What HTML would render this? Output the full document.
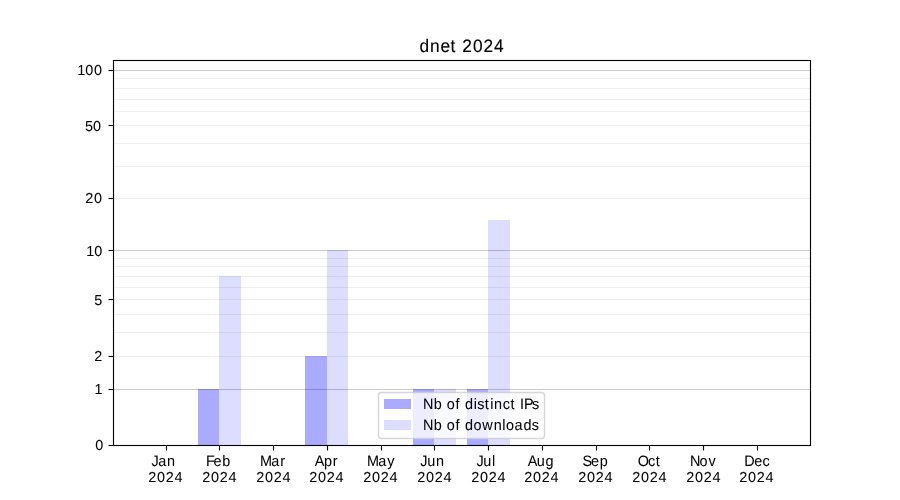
<!DOCTYPE html>
<html lang="en">
<head>
<meta charset="utf-8">
<title>dnet 2024</title>
<style>
html,body{margin:0;padding:0;background:#ffffff;}
body{width:900px;height:500px;overflow:hidden;font-family:"Liberation Sans",sans-serif;}
svg{display:block;will-change:transform;}
svg text{font-family:"Liberation Sans",sans-serif;fill:#000000;white-space:pre;text-rendering:geometricPrecision;stroke:#000000;stroke-width:0.04;}
.sp{stroke:#000;stroke-width:1.111;fill:none;}
.gM{fill:#000;fill-opacity:0.2;}
.gm{fill:#000;fill-opacity:0.06;}
</style>
</head>
<body>
<svg width="900" height="500" viewBox="0 0 900 500">
<defs><filter id="ga" x="-5%" y="-5%" width="110%" height="110%" color-interpolation-filters="sRGB"><feOffset dx="0" dy="0"/></filter></defs>
<rect x="0" y="0" width="900" height="500" fill="#ffffff"/>
<!-- bars -->
<g shape-rendering="crispEdges">
<rect x="198" y="389" width="21" height="56" fill="rgb(170,170,255)"/>
<rect x="219" y="276" width="22" height="169" fill="rgb(221,221,255)"/>
<rect x="305" y="356" width="22" height="89" fill="rgb(170,170,255)"/>
<rect x="327" y="250" width="21" height="195" fill="rgb(221,221,255)"/>
<rect x="413" y="389" width="21" height="56" fill="rgb(170,170,255)"/>
<rect x="434" y="389" width="22" height="56" fill="rgb(221,221,255)"/>
<rect x="467" y="389" width="21" height="56" fill="rgb(170,170,255)"/>
<rect x="488" y="220" width="22" height="225" fill="rgb(221,221,255)"/>
</g>
<!-- horizontal grid lines -->
<g>
<rect class="gM" x="112.5" width="697.5" y="69.9445" height="1.1111"/>
<rect class="gM" x="112.5" width="697.5" y="249.9444" height="1.1111"/>
<rect class="gM" x="112.5" width="697.5" y="388.9445" height="1.1111"/>
<rect class="gm" x="112.5" width="697.5" y="77.9445" height="1.1111"/>
<rect class="gm" x="112.5" width="697.5" y="87.9445" height="1.1111"/>
<rect class="gm" x="112.5" width="697.5" y="98.9445" height="1.1111"/>
<rect class="gm" x="112.5" width="697.5" y="110.9445" height="1.1111"/>
<rect class="gm" x="112.5" width="697.5" y="124.9445" height="1.1111"/>
<rect class="gm" x="112.5" width="697.5" y="142.9444" height="1.1111"/>
<rect class="gm" x="112.5" width="697.5" y="165.9444" height="1.1111"/>
<rect class="gm" x="112.5" width="697.5" y="197.9444" height="1.1111"/>
<rect class="gm" x="112.5" width="697.5" y="257.9445" height="1.1111"/>
<rect class="gm" x="112.5" width="697.5" y="265.9445" height="1.1111"/>
<rect class="gm" x="112.5" width="697.5" y="275.9445" height="1.1111"/>
<rect class="gm" x="112.5" width="697.5" y="286.9445" height="1.1111"/>
<rect class="gm" x="112.5" width="697.5" y="298.9445" height="1.1111"/>
<rect class="gm" x="112.5" width="697.5" y="313.9445" height="1.1111"/>
<rect class="gm" x="112.5" width="697.5" y="331.9445" height="1.1111"/>
<rect class="gm" x="112.5" width="697.5" y="355.9445" height="1.1111"/>
</g>
<!-- ticks -->
<g class="sp">
<line x1="166.5" x2="166.5" y1="445.5" y2="450.5"/>
<line x1="219.5" x2="219.5" y1="445.5" y2="450.5"/>
<line x1="273.5" x2="273.5" y1="445.5" y2="450.5"/>
<line x1="327.5" x2="327.5" y1="445.5" y2="450.5"/>
<line x1="381.5" x2="381.5" y1="445.5" y2="450.5"/>
<line x1="434.5" x2="434.5" y1="445.5" y2="450.5"/>
<line x1="488.5" x2="488.5" y1="445.5" y2="450.5"/>
<line x1="542.5" x2="542.5" y1="445.5" y2="450.5"/>
<line x1="596.5" x2="596.5" y1="445.5" y2="450.5"/>
<line x1="649.5" x2="649.5" y1="445.5" y2="450.5"/>
<line x1="703.5" x2="703.5" y1="445.5" y2="450.5"/>
<line x1="757.5" x2="757.5" y1="445.5" y2="450.5"/>
<line x1="108.5" x2="113.5" y1="70.5" y2="70.5"/>
<line x1="108.5" x2="113.5" y1="125.5" y2="125.5"/>
<line x1="108.5" x2="113.5" y1="198.5" y2="198.5"/>
<line x1="108.5" x2="113.5" y1="250.5" y2="250.5"/>
<line x1="108.5" x2="113.5" y1="299.5" y2="299.5"/>
<line x1="108.5" x2="113.5" y1="356.5" y2="356.5"/>
<line x1="108.5" x2="113.5" y1="389.5" y2="389.5"/>
<line x1="108.5" x2="113.5" y1="445.5" y2="445.5"/>
</g>
<!-- axes frame -->
<rect class="sp" x="113.5" y="60.5" width="697" height="385" stroke-linejoin="miter"/>
<g filter="url(#ga)">
<!-- title -->
<text style="stroke-width:0.12" transform="translate(0 52) scale(1.040 1.085)" x="403.32 413.42 423.48 433.07 439.02 444.44 454.74 464.87 474.93" y="0" font-size="16.667">dnet 2024</text>
<!-- y tick labels -->
<text transform="translate(0 75) scale(1.040 1.045)" x="74.20 81.96 90.38" y="0" font-size="13.889">100</text>
<text transform="translate(0 131) scale(1.040 1.045)" x="81.71 89.33" y="0" font-size="13.889">50</text>
<text transform="translate(0 203) scale(1.040 1.045)" x="81.97 90.32" y="0" font-size="13.889">20</text>
<text transform="translate(0 256) scale(1.040 1.045)" x="82.85 90.62" y="0" font-size="13.889">10</text>
<text transform="translate(0 305) scale(1.040 1.045)" x="90.62" y="0" font-size="13.889">5</text>
<text transform="translate(0 361) scale(1.040 1.045)" x="90.61" y="0" font-size="13.889">2</text>
<text transform="translate(0 394) scale(1.040 1.045)" x="90.78" y="0" font-size="13.889">1</text>
<text transform="translate(0 450) scale(1.040 1.045)" x="91.57" y="0" font-size="13.889">0</text>
<!-- x tick labels -->
<text transform="translate(0 466) scale(1.040 1.085)" x="145.62 152.12 160.48" y="0" font-size="13.889">Jan</text>
<text transform="translate(0 482) scale(1.040 1.045)" x="142.48 151.07 159.43 167.77" y="0" font-size="13.889">2024</text>
<text transform="translate(0 466) scale(1.040 1.085)" x="198.05 205.24 213.60" y="0" font-size="13.889">Feb</text>
<text transform="translate(0 482) scale(1.040 1.045)" x="194.40 202.99 211.35 219.70" y="0" font-size="13.889">2024</text>
<text transform="translate(0 466) scale(1.040 1.085)" x="250.00 260.81 269.59" y="0" font-size="13.889">Mar</text>
<text transform="translate(0 482) scale(1.040 1.045)" x="246.32 254.91 263.27 271.62" y="0" font-size="13.889">2024</text>
<text transform="translate(0 466) scale(1.040 1.085)" x="302.60 311.43 319.95" y="0" font-size="13.889">Apr</text>
<text transform="translate(0 482) scale(1.040 1.045)" x="297.29 305.88 314.23 322.58" y="0" font-size="13.889">2024</text>
<text transform="translate(0 466) scale(1.040 1.085)" x="352.84 363.65 372.33" y="0" font-size="13.889">May</text>
<text transform="translate(0 482) scale(1.040 1.045)" x="349.21 357.80 366.16 374.50" y="0" font-size="13.889">2024</text>
<text transform="translate(0 466) scale(1.040 1.085)" x="403.97 410.72 419.20" y="0" font-size="13.889">Jun</text>
<text transform="translate(0 482) scale(1.040 1.045)" x="401.13 409.72 418.08 426.43" y="0" font-size="13.889">2024</text>
<text transform="translate(0 466) scale(1.040 1.085)" x="458.09 464.60 472.99" y="0" font-size="13.889">Jul</text>
<text transform="translate(0 482) scale(1.040 1.045)" x="453.06 461.65 470.00 478.35" y="0" font-size="13.889">2024</text>
<text transform="translate(0 466) scale(1.040 1.085)" x="507.43 516.13 524.49" y="0" font-size="13.889">Aug</text>
<text transform="translate(0 482) scale(1.040 1.045)" x="504.02 512.61 520.96 529.31" y="0" font-size="13.889">2024</text>
<text transform="translate(0 466) scale(1.040 1.085)" x="560.03 568.19 576.68" y="0" font-size="13.889">Sep</text>
<text transform="translate(0 482) scale(1.040 1.045)" x="555.94 564.53 572.89 581.24" y="0" font-size="13.889">2024</text>
<text transform="translate(0 466) scale(1.040 1.085)" x="613.13 623.05 630.63" y="0" font-size="13.889">Oct</text>
<text transform="translate(0 482) scale(1.040 1.045)" x="607.86 616.45 624.81 633.16" y="0" font-size="13.889">2024</text>
<text transform="translate(0 466) scale(1.040 1.085)" x="663.42 672.56 681.23" y="0" font-size="13.889">Nov</text>
<text transform="translate(0 482) scale(1.040 1.045)" x="659.79 668.38 676.73 685.08" y="0" font-size="13.889">2024</text>
<text transform="translate(0 466) scale(1.040 1.085)" x="715.59 725.33 733.15" y="0" font-size="13.889">Dec</text>
<text transform="translate(0 482) scale(1.040 1.045)" x="710.75 719.34 727.70 736.04" y="0" font-size="13.889">2024</text>
</g>
<!-- legend -->
<rect x="378.5" y="392.5" width="166" height="46" rx="3" ry="3" fill="#ffffff" fill-opacity="0.79" stroke="#cccccc" stroke-opacity="0.8" stroke-width="1.389"/>
<rect x="384" y="399" width="27" height="10" fill="rgb(170,170,255)" shape-rendering="crispEdges"/>
<rect x="384" y="420" width="27" height="10" fill="rgb(221,221,255)" shape-rendering="crispEdges"/>
<g filter="url(#ga)">
<text transform="translate(0 409) scale(1.040 1.085)" x="406.69 417.03 425.22 429.53 438.07 442.41 447.03 455.47 458.85 466.14 471.33 475.02 483.31 490.78 495.77 499.90 503.80 511.50" y="0" font-size="13.889">Nb of distinct IPs</text>
<text transform="translate(0 430) scale(1.040 1.085)" x="406.69 417.03 425.10 429.53 438.07 442.29 447.03 455.25 463.64 474.66 482.86 486.50 494.66 503.28 511.26" y="0" font-size="13.889">Nb of downloads</text>
</g>
</svg>
</body>
</html>
